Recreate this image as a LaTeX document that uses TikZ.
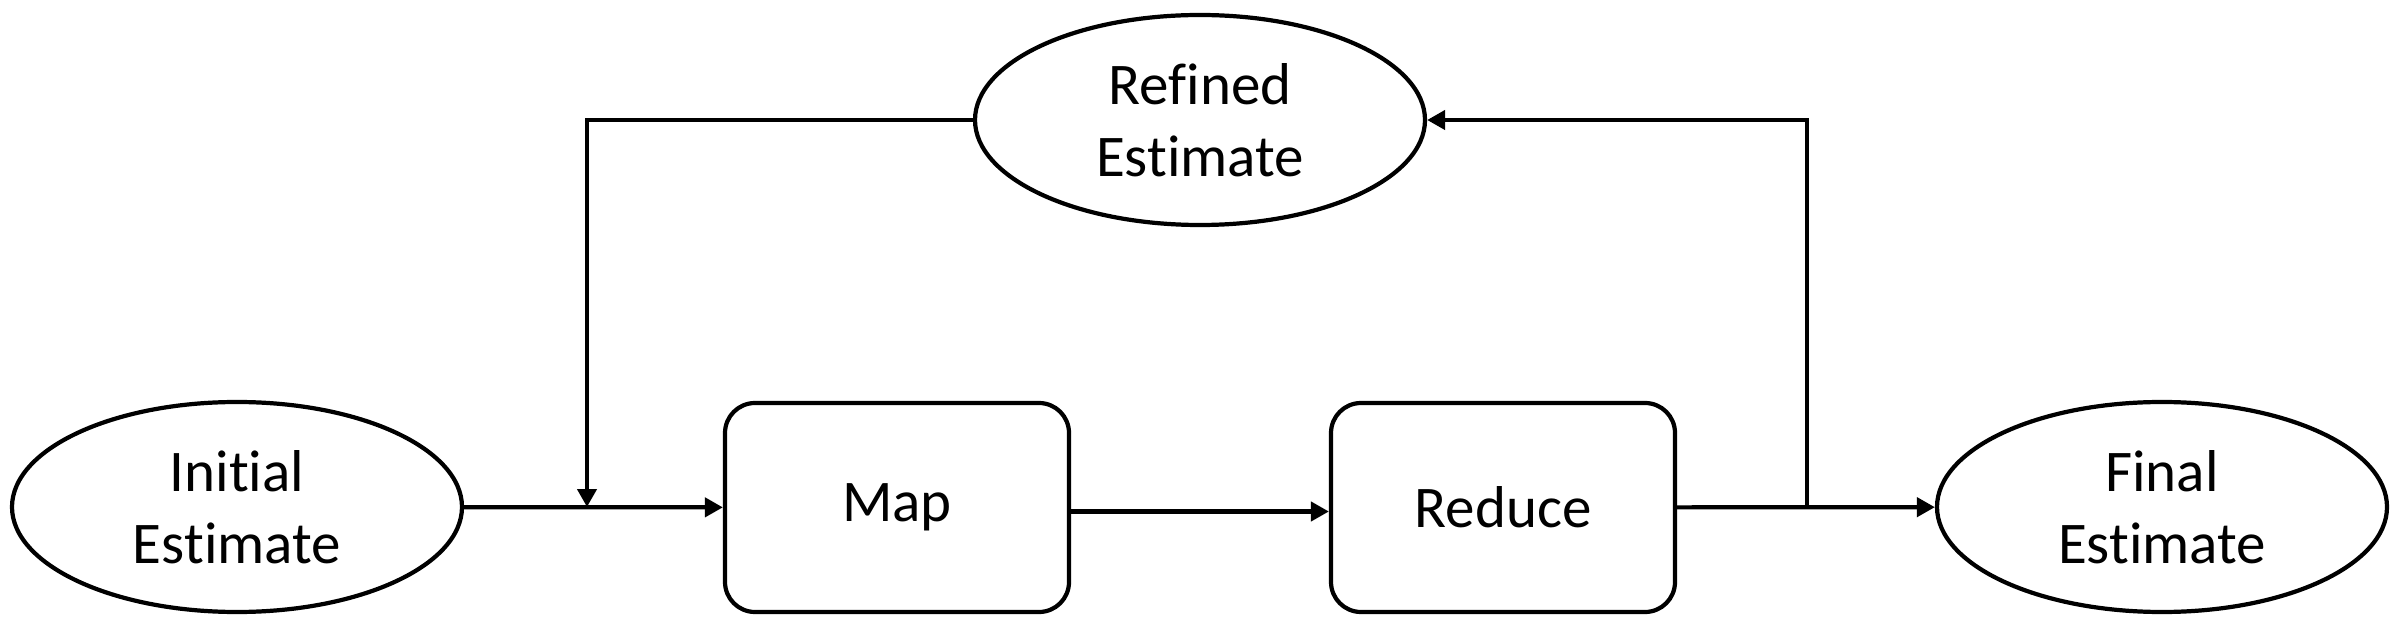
\documentclass[tikz,border=0pt]{standalone}
\usepackage{fontspec}
\setmainfont{Carlito}[Ligatures=NoCommon]
\usepackage{tikz}
\usetikzlibrary{shapes.geometric}
\usetikzlibrary{arrows.meta}
\tikzset{
	ellipsestyle/.style={ellipse,draw=black,line width=1.2pt,fill=white,minimum width=4.5cm,minimum height=2.1cm,inner sep=0pt,align=center,font=\fontsize{16.8}{20.5}\selectfont},
	boxstyle/.style={rectangle,rounded corners=0.3cm,draw=black,line width=1.2pt,fill=white,minimum width=3.44cm,minimum height=2.09cm,align=center,font=\fontsize{16.8}{20.5}\selectfont},
	linkstyle/.style={line width=1.2pt,-{Triangle[length=0.18cm,width=0.19cm]}}
}
\begin{document}
\begin{tikzpicture}
		\useasboundingbox (0,0) rectangle (23.99,6.35);
		\node[ellipsestyle] (initial) at (2.37,1.28) {Initial\\Estimate};
		\node[boxstyle] (map) at (8.97,1.275) {Map};
		\node[boxstyle] (reduce) at (15.03,1.275) {Reduce};
		\node[ellipsestyle] (final) at (21.62,1.28) {Final\\Estimate};
		\node[ellipsestyle] (refined) at (12.00,5.15) {Refined\\Estimate};
		\coordinate (join) at (5.87,1.28);
		\coordinate (split) at (18.07,1.28);
		\draw[linkstyle] (initial)--(map);
		\draw[linkstyle] ([yshift=-0.04cm]map.east)--([yshift=-0.04cm]reduce.west);
		\draw[linkstyle] (reduce)--(final);
		\draw[linkstyle] (refined.west)-|(join);
		\draw[linkstyle] (split)|-(refined.east);
		\end{tikzpicture}
\end{document}
